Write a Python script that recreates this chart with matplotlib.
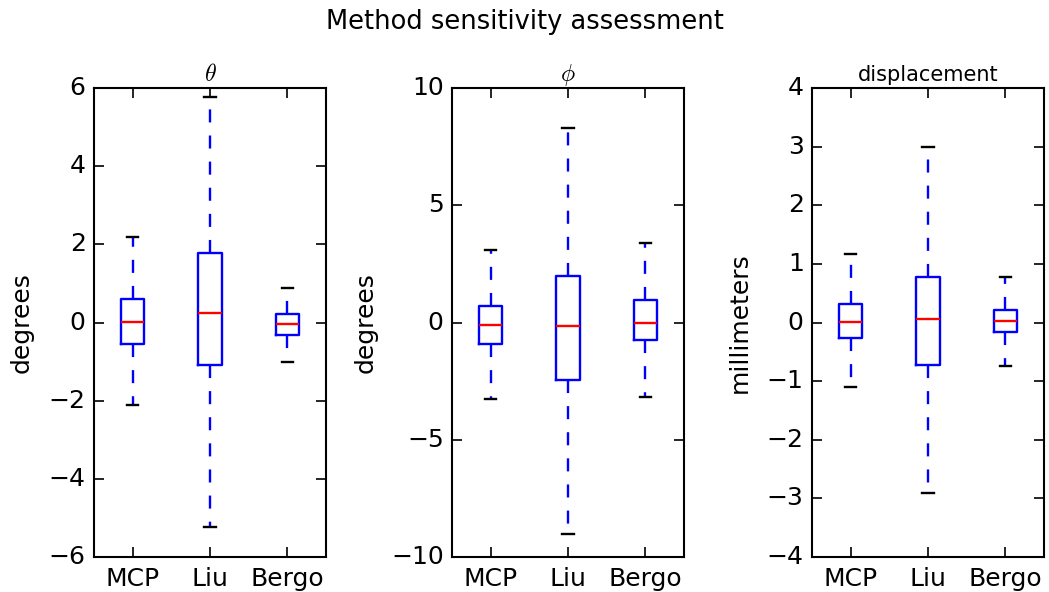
import matplotlib
matplotlib.use("Agg")
import matplotlib.pyplot as plt

plt.style.use("classic")
plt.rcParams["lines.scale_dashes"] = False

methods = ["MCP", "Liu", "Bergo"]
panel_titles = [r"$\theta$", r"$\phi$", "displacement"]
panel_title_sizes = [17, 17, 15]
panel_ylabels = ["degrees", "degrees", "millimeters"]
panel_ylims = [(-6, 6), (-10, 10), (-4, 4)]
panel_yticks = [[-6, -4, -2, 0, 2, 4, 6], [-10, -5, 0, 5, 10], [-4, -3, -2, -1, 0, 1, 2, 3, 4]]

# stats per method: [whisker low, q1, median, q3, whisker high]
theta_stats = [[-2.10, -0.56, 0.01, 0.60, 2.20],
               [-5.24, -1.08, 0.24, 1.77, 5.76],
               [-1.02, -0.32, -0.04, 0.22, 0.88]]
phi_stats = [[-3.25, -0.92, -0.10, 0.72, 3.08],
             [-9.00, -2.45, -0.14, 1.98, 8.30],
             [-3.18, -0.75, -0.02, 0.98, 3.40]]
disp_stats = [[-1.10, -0.26, 0.01, 0.32, 1.17],
              [-2.90, -0.72, 0.06, 0.78, 3.00],
              [-0.74, -0.17, 0.03, 0.21, 0.77]]
all_stats = [theta_stats, phi_stats, disp_stats]

fig = plt.figure(figsize=(10.49, 5.92), dpi=100, facecolor="white")
lefts = [94 / 1049, 452 / 1049, 812 / 1049]
width = 232 / 1049
bottom = 1 - 557 / 592
height = (557 - 88) / 592

ylabel_x = [34, 378, 752]

for i in range(3):
    ax = fig.add_axes([lefts[i], bottom, width, height])
    ax.set_facecolor("white")
    stats = []
    for m, s in zip(methods, all_stats[i]):
        stats.append(dict(label=m, whislo=s[0], q1=s[1], med=s[2], q3=s[3], whishi=s[4], fliers=[]))
    ax.bxp(stats, showfliers=False, widths=0.3,
           boxprops=dict(color="blue", linewidth=1.7),
           whiskerprops=dict(color="blue", linewidth=1.7, linestyle=(0, (9.4, 9.4))),
           capprops=dict(color="black", linewidth=1.7),
           medianprops=dict(color="red", linewidth=1.7))
    ax.set_xlim(0.5, 3.5)
    ax.set_ylim(*panel_ylims[i])
    ax.set_yticks(panel_yticks[i])
    ax.set_xticks([1, 2, 3])
    ax.set_xticklabels(methods)
    ax.tick_params(axis="both", which="major", labelsize=18, length=7, width=1.2, direction="in")
    ax.tick_params(axis="x", pad=7)
    ax.tick_params(axis="y", pad=6)
    for sp in ax.spines.values():
        sp.set_linewidth(1.5)
    ax.set_title(panel_titles[i], fontsize=panel_title_sizes[i], pad=5)
    ax.set_ylabel(panel_ylabels[i], fontsize=18)
    ax.yaxis.set_label_coords((ylabel_x[i] - lefts[i] * 1049) / 232, 0.5)

fig.suptitle("Method sensitivity assessment", fontsize=18.5, y=0.985)
fig.savefig("out.png", dpi=100, facecolor="white")
